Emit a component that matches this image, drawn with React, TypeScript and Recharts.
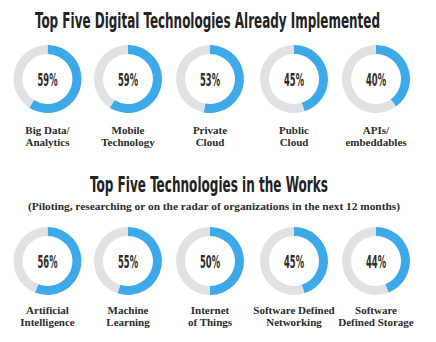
import React from "react";
import { PieChart, Pie, Cell } from "recharts";

const rowOneLabels = [["Big Data/", "Analytics"], ["Mobile", "Technology"], ["Private", "Cloud"], ["Public", "Cloud"], ["APIs/", "embeddables"]];
const rowOneValues = [59, 59, 53, 45, 40];
const rowTwoLabels = [["Artificial", "Intelligence"], ["Machine", "Learning"], ["Internet", "of Things"], ["Software Defined", "Networking"], ["Software", "Defined Storage"]];
const rowTwoValues = [56, 55, 50, 45, 44];
const titleOne = "Top Five Digital Technologies Already Implemented";
const titleTwo = "Top Five Technologies in the Works";
const subtitle = "(Piloting, researching or on the radar of organizations in the next 12 months)";

const W = 436;
const H = 342;
const centersX = [47.5, 128, 210, 294, 376];
const rowOneY = 79;
const rowTwoY = 261;
const BLUE = "#3DA9E9";
const GRAY = "#E1E1E3";
const DARK = "#2b2b2b";
const condensed = "'Liberation Sans Narrow', 'DejaVu Sans Condensed', Roboto, sans-serif";
const serif = "'Liberation Serif', 'DejaVu Serif', serif";

function renderRow(values: number[], cy: number, key: string) {
  return values.map((v, i) => (
    <Pie
      key={key + i}
      data={[{ name: "yes", value: v }, { name: "rest", value: 100 - v }]}
      dataKey="value"
      cx={centersX[i]}
      cy={cy}
      innerRadius={25}
      outerRadius={34}
      startAngle={90}
      endAngle={-270}
      stroke="none"
      isAnimationActive={false}
    >
      <Cell fill={BLUE} />
      <Cell fill={GRAY} />
    </Pie>
  ));
}

function PctTexts({ values, cy }: { values: number[]; cy: number }) {
  return (
    <>
      {values.map((v, i) => (
        <text
          key={i}
          x={centersX[i]}
          y={cy + 7}
          textAnchor="middle"
          fontFamily={condensed}
          fontWeight="bold"
          fontSize={17.5}
          fill={DARK}
          textLength={20}
          lengthAdjust="spacingAndGlyphs"
        >
          {v + "%"}
        </text>
      ))}
    </>
  );
}

function LabelTexts({ labels, base }: { labels: string[][]; base: number }) {
  return (
    <>
      {labels.map((lines, i) =>
        lines.map((ln, j) => (
          <text
            key={i + "-" + j}
            x={centersX[i]}
            y={base + j * 12}
            textAnchor="middle"
            fontFamily={serif}
            fontWeight="bold"
            fontSize={11}
            fill={DARK}
          >
            {ln}
          </text>
        ))
      )}
    </>
  );
}

export default function App() {
  return (
    <div style={{ position: "absolute", left: 0, top: 0, width: W, height: H, background: "#fff" }}>
      <PieChart width={W} height={H} margin={{ top: 0, right: 0, bottom: 0, left: 0 }}>
        {renderRow(rowOneValues, rowOneY, "a")}
        {renderRow(rowTwoValues, rowTwoY, "b")}
      </PieChart>
      <svg width={W} height={H} style={{ position: "absolute", left: 0, top: 0, pointerEvents: "none" }}>
        <text x={35} y={27.5} fontFamily={condensed} fontWeight="bold" fontSize={21} fill="#222" textLength={345} lengthAdjust="spacingAndGlyphs">
          {titleOne}
        </text>
        <text x={90} y={191.5} fontFamily={condensed} fontWeight="bold" fontSize={21} fill="#222" textLength={238} lengthAdjust="spacingAndGlyphs">
          {titleTwo}
        </text>
        <text x={28} y={210} fontFamily={serif} fontWeight="bold" fontSize={10} fill={DARK} textLength={372} lengthAdjust="spacingAndGlyphs">
          {subtitle}
        </text>
        <PctTexts values={rowOneValues} cy={rowOneY} />
        <PctTexts values={rowTwoValues} cy={rowTwoY} />
        <LabelTexts labels={rowOneLabels} base={134} />
        <LabelTexts labels={rowTwoLabels} base={314} />
      </svg>
    </div>
  );
}
